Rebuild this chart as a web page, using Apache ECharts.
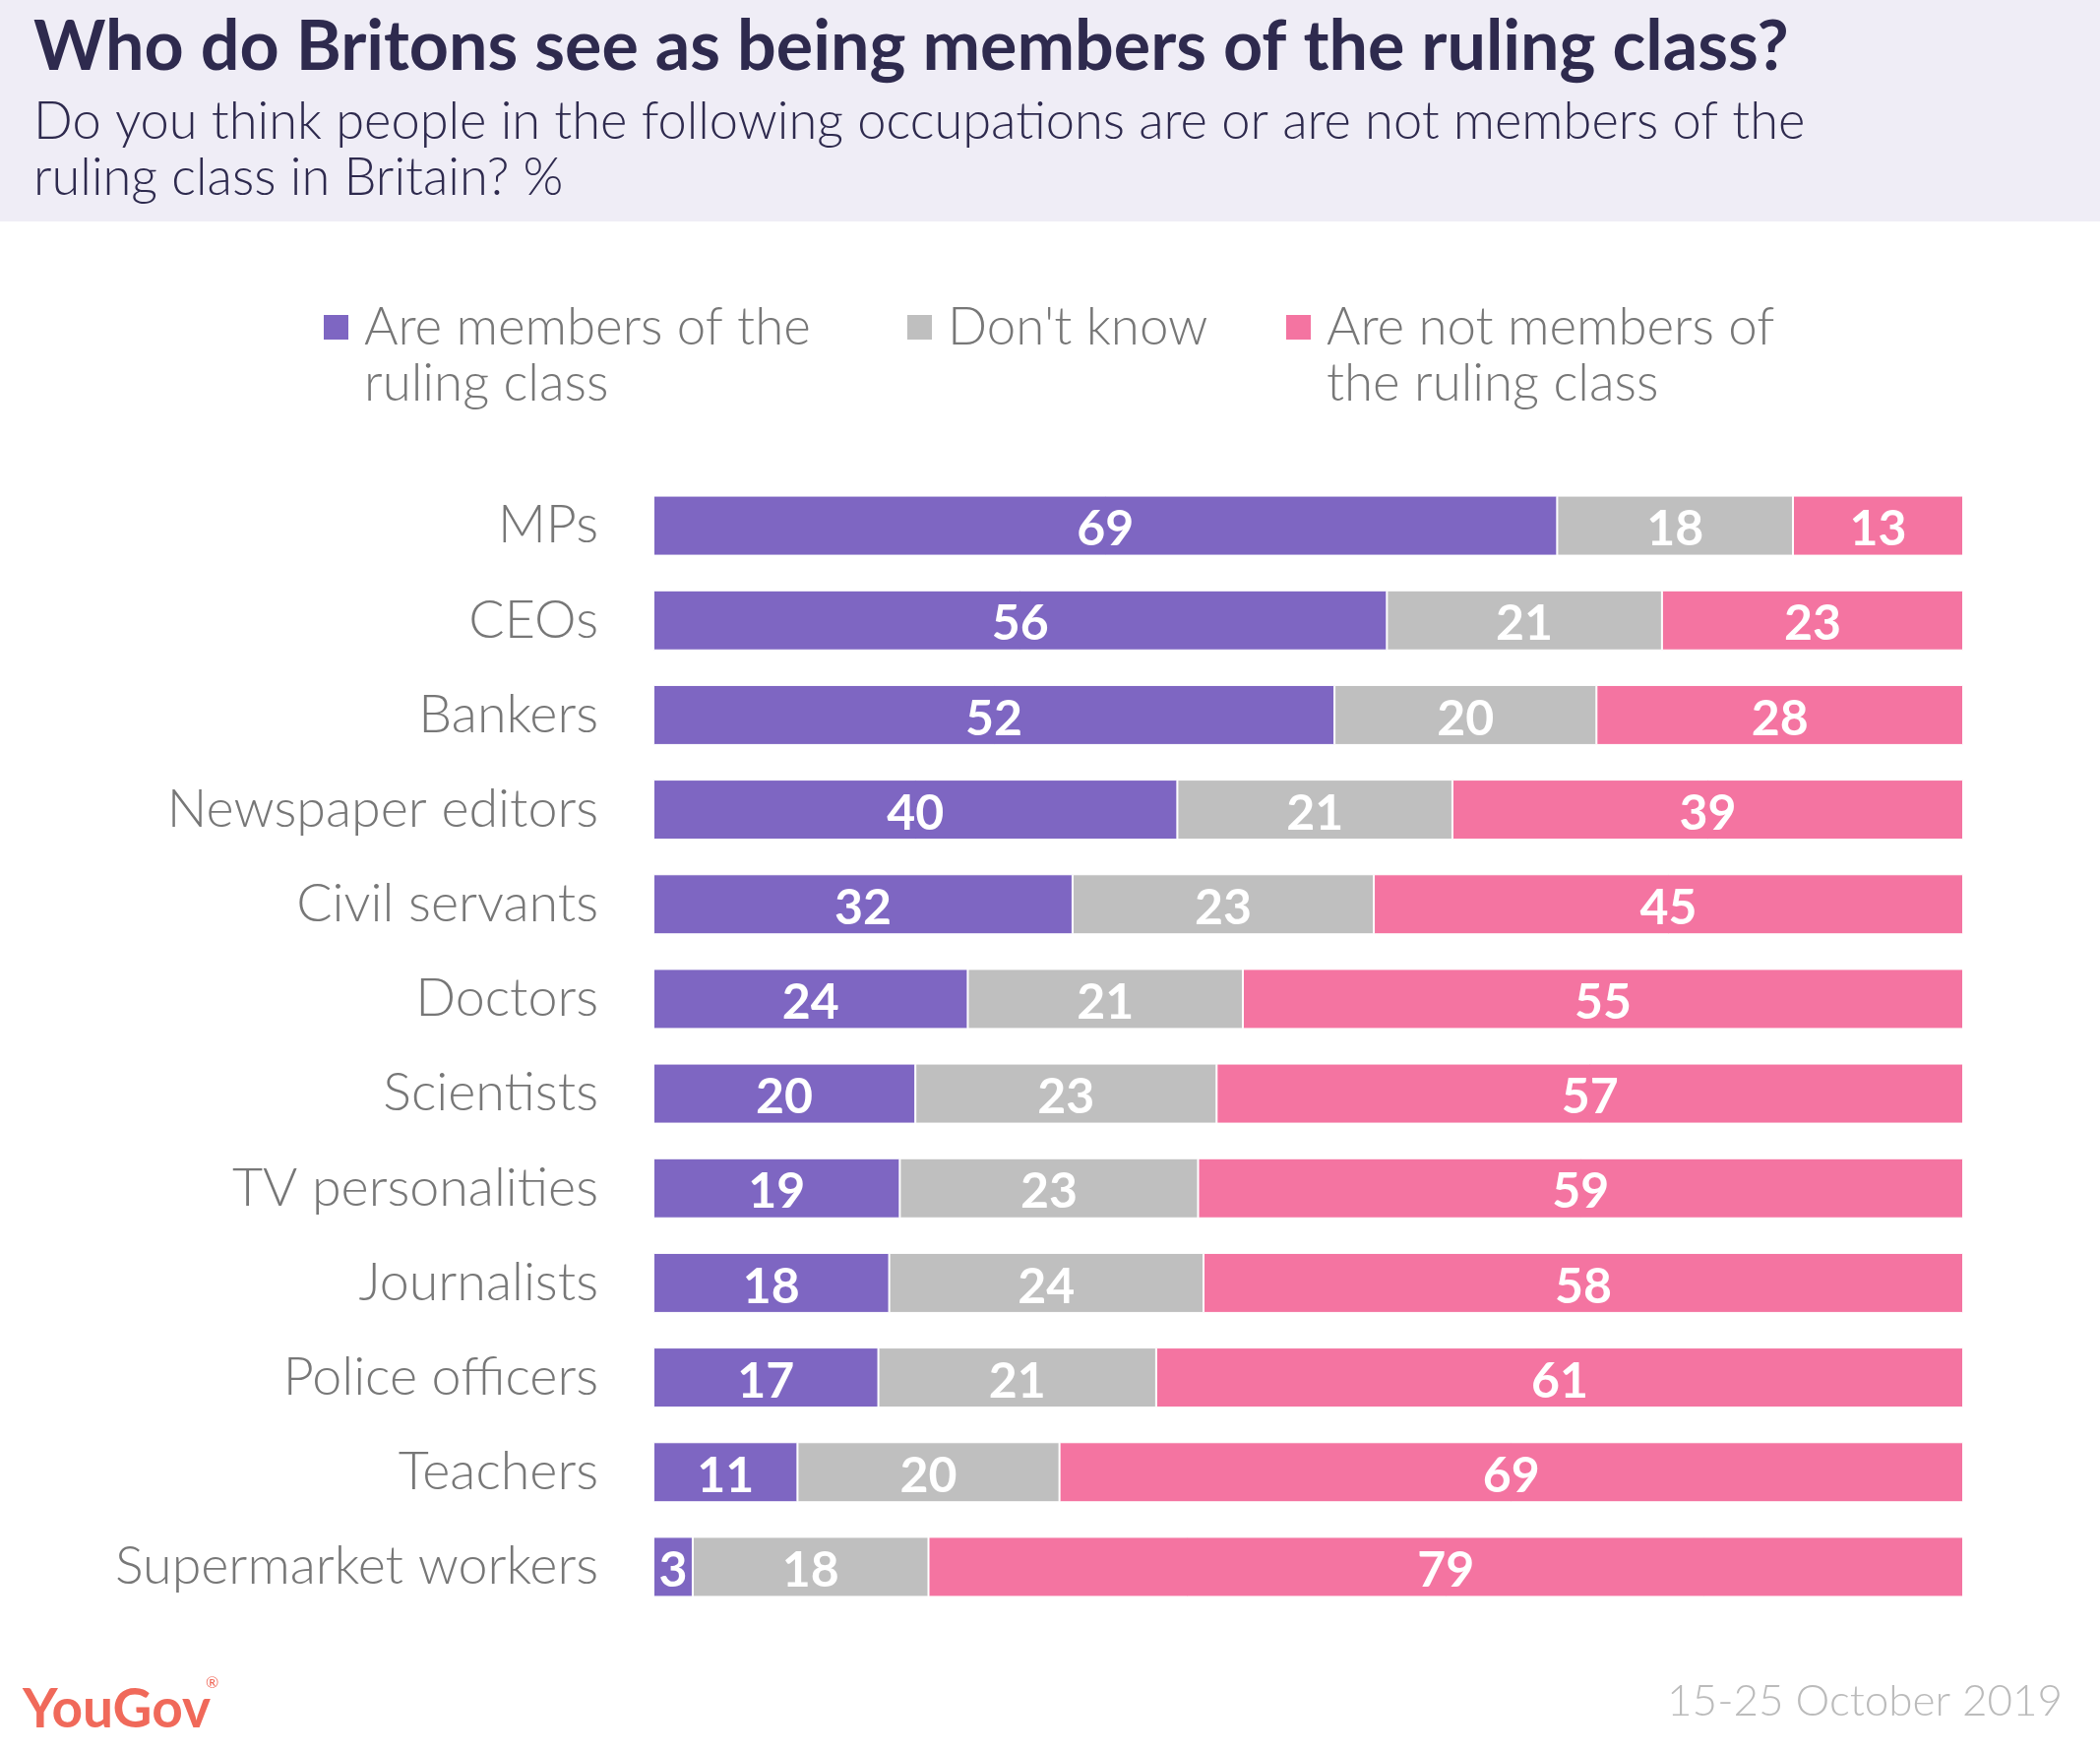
<!DOCTYPE html>
<html>
<head>
<meta charset="utf-8">
<style>
  html, body { margin: 0; padding: 0; background: #ffffff; }
  #chart { width: 2134px; height: 1780px; }
</style>
<script src="https://cdn.jsdelivr.net/npm/echarts@6/dist/echarts.min.js"></script>
</head>
<body>
<div id="chart"></div>
<script>
// ---- Data ----
const categories = ['MPs', 'CEOs', 'Bankers', 'Newspaper editors', 'Civil servants', 'Doctors',
  'Scientists', 'TV personalities', 'Journalists', 'Police officers', 'Teachers', 'Supermarket workers'];
const members    = [69, 56, 52, 40, 32, 24, 20, 19, 18, 17, 11, 3];
const dontKnow   = [18, 21, 20, 21, 23, 21, 23, 23, 24, 21, 20, 18];
const notMembers = [13, 23, 28, 39, 45, 55, 57, 59, 58, 61, 69, 79];
const seriesNames = ['Are members of the ruling class', "Don't know", 'Are not members of the ruling class'];
const legendLabels = {
  'Are members of the ruling class': '\nAre members of the\nruling class',
  "Don't know": "Don't know",
  'Are not members of the ruling class': '\nAre not members of\nthe ruling class'
};
const titleText = 'Who do Britons see as being members of the ruling class?';
const subtitleText = 'Do you think people in the following occupations are or are not members of the\nruling class in Britain? %';
const sourceText = '15-25 October 2019';

const colors = ['#7e66c2', '#bfbfbf', '#f474a1'];
const FONT = 'Lato, "Open Sans", sans-serif';

const raw = [members, dontKnow, notMembers];
const totals = categories.map((c, i) => members[i] + dontKnow[i] + notMembers[i]);

const chart = echarts.init(document.getElementById('chart'));

const series = raw.map((arr, s) => ({
  name: seriesNames[s],
  type: 'bar',
  stack: 'total',
  barWidth: 61,
  data: arr.map((v, i) => v / totals[i] * 100),
  itemStyle: { color: colors[s], borderColor: '#ffffff', borderWidth: 1 },
  label: {
    show: true,
    position: 'inside',
    offset: [0, 4],
    color: '#ffffff',
    fontFamily: FONT,
    fontWeight: 'bold',
    fontSize: 50,
    formatter: p => String(raw[s][p.dataIndex])
  },
  emphasis: { disabled: true }
}));

const legendBase = {
  orient: 'horizontal',
  padding: 0,
  itemWidth: 27,
  itemHeight: 27,
  icon: 'rect',
  formatter: n => legendLabels[n],
  textStyle: { fontFamily: FONT, fontWeight: 300, fontSize: 52.8, color: '#777777', lineHeight: 57, padding: [0, 0, 0, 10] }
};

chart.setOption({
  backgroundColor: '#ffffff',
  animation: false,
  graphic: [
    { type: 'rect', left: 0, top: 0, shape: { x: 0, y: 0, width: 2134, height: 225 }, style: { fill: '#efedf6' }, z: -10 },
    { type: 'text', style: { x: 23, y: 1737, text: 'YouGov', fill: '#f0695a', font: 'bold 55px ' + FONT, verticalAlign: 'middle', align: 'left' } },
    { type: 'text', style: { x: 209, y: 1710, text: '®', fill: '#f0695a', font: '16px ' + FONT, verticalAlign: 'middle', align: 'left' } },
    { type: 'text', style: { x: 2096, y: 1729, text: sourceText, fill: '#bbbbbb', font: '300 44px ' + FONT, verticalAlign: 'middle', align: 'right' } }
  ],
  title: [
    { text: titleText, left: 34, top: 9, padding: 0,
      textStyle: { fontFamily: FONT, fontWeight: 'bold', fontSize: 70, lineHeight: 78, color: '#2e2a4e' } },
    { text: subtitleText, left: 34, top: 96, padding: 0,
      textStyle: { fontFamily: FONT, fontWeight: 300, fontSize: 52.4, lineHeight: 57, color: '#2e2a4e' } }
  ],
  legend: [
    Object.assign({}, legendBase, { data: [seriesNames[0]], left: 327, top: 247 }),
    Object.assign({}, legendBase, { data: [seriesNames[1]], left: 920, top: 304 }),
    Object.assign({}, legendBase, { data: [seriesNames[2]], left: 1305, top: 247 })
  ],
  grid: { left: 664, right: 139, top: 486, height: 1154, containLabel: false },
  xAxis: {
    type: 'value', min: 0, max: 100, show: false
  },
  yAxis: {
    type: 'category',
    data: categories,
    inverse: true,
    axisLine: { show: false },
    axisTick: { show: false },
    splitLine: { show: false },
    axisLabel: { margin: 56, fontFamily: FONT, fontWeight: 300, fontSize: 53.8, color: '#777777' }
  },
  series: series
});
</script>
</body>
</html>
